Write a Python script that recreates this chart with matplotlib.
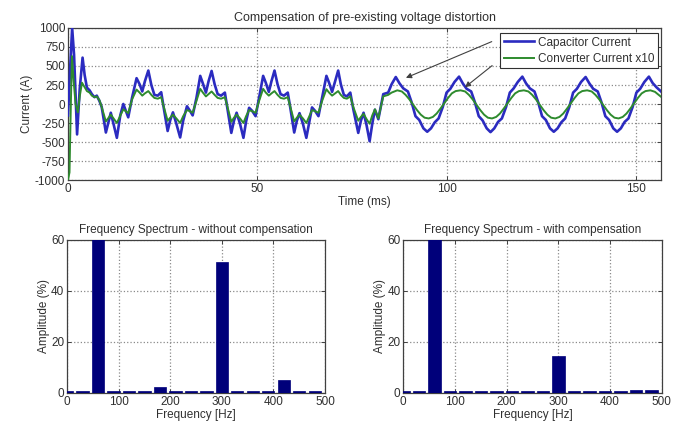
import matplotlib
matplotlib.use("Agg")
import matplotlib.pyplot as plt

plt.rcParams['font.family'] = ['Liberation Sans', 'DejaVu Sans']
plt.rcParams['axes.unicode_minus'] = False

# ---------------- data ----------------
title_top = "Compensation of pre-existing voltage distortion"

t_cap = [0.0, 0.5, 1.1, 1.6, 2.4, 3.1, 3.85, 4.4, 5.0, 5.7, 6.3, 7.0, 7.6, 8.3, 8.9,
         10.0, 11.3, 12.9, 13.8, 14.6, 15.9, 16.9,
         18.1, 18.9, 19.6, 20.3, 21.2, 22.0, 22.8, 23.7, 24.6, 25.3, 26.3, 27.0, 27.7, 28.6, 29.6, 30.4, 31.4, 32.2, 32.9, 33.9,
         34.9, 35.6, 36.4, 37.1, 37.9, 38.7, 39.5, 40.4, 41.4, 42.1, 43.1, 43.8, 44.5, 45.4, 46.3, 47.0, 47.8, 48.6, 49.5, 50.5,
         51.5, 52.2, 53.0, 53.7, 54.5, 55.3, 56.1, 57.0, 58.0, 58.7, 59.7, 60.4, 61.1, 62.0, 62.9, 63.7, 64.4, 65.2, 66.1, 67.1,
         68.2, 68.9, 69.7, 70.5, 71.3, 72.0, 72.8, 73.6, 74.5, 75.3, 76.6, 77.3, 78.0, 78.8, 79.6, 80.3, 81.0, 81.9, 82.6, 83.2, 84.5, 85.4,
         86.5, 87.5, 88.5, 89.7, 90.7, 91.7, 92.7, 93.8, 94.8, 95.8, 96.8, 97.8, 98.9, 99.9, 100.9, 102.0,
         103.2, 104.2, 105.2, 106.4, 107.4, 108.4, 109.4, 110.5, 111.5, 112.5, 113.5, 114.5, 115.6, 116.6, 117.6, 118.7,
         119.9, 120.9, 121.9, 123.1, 124.1, 125.1, 126.1, 127.2, 128.2, 129.2, 130.2, 131.2, 132.3, 133.3, 134.3, 135.4,
         136.6, 137.6, 138.6, 139.8, 140.8, 141.8, 142.8, 143.9, 144.9, 145.9, 146.9, 147.9, 149.0, 150.0, 151.0, 152.1,
         153.3, 154.3, 155.3, 156.5]
i_cap = [-150, 400, 1000, 650, -400, 200, 610, 380, 215, 180, 130, 90, 110, 40, -40,
         -375, -115, -445, -150, 0, -175, 80,
         340, 260, 165, 300, 440, 250, 120, 110, 155, -60, -355, -210, -110, -260, -440, -220, -30, -90, -150, 80,
         370, 270, 150, 300, 435, 260, 130, 110, 150, -70, -380, -220, -115, -260, -445, -230, -50, -90, -160, 100,
         370, 280, 160, 300, 440, 260, 130, 110, 150, -60, -375, -220, -120, -260, -445, -230, -45, -90, -160, 90,
         370, 280, 160, 300, 440, 260, 120, 100, 150, -70, -380, -220, -115, -280, -490, -260, -75, -200, -20, 130, 150, 260,
         355, 270, 205, 165, 20, -160, -210, -320, -365, -320, -240, -190, -40, 150, 200, 290,
         360, 270, 200, 165, 20, -160, -215, -320, -370, -320, -235, -190, -40, 150, 205, 290,
         360, 270, 205, 165, 20, -160, -210, -320, -365, -320, -240, -190, -40, 150, 200, 290,
         355, 270, 200, 165, 20, -160, -210, -320, -365, -320, -235, -190, -40, 150, 200, 290,
         360, 275, 220, 165]

t_conv = [0.0, 0.4, 0.8, 1.05, 1.5, 2.0, 2.6, 3.1, 3.7, 4.4, 5.0, 5.7, 6.3, 7.0, 7.6, 8.3, 8.9,
          10.0, 11.3, 12.9, 14.6, 15.9, 16.9,
          18.1, 18.9, 19.6, 20.3, 21.2, 22.0, 22.8, 23.7, 24.6, 25.3, 26.3, 27.0, 27.7, 28.6, 29.6, 30.4, 31.4, 32.2, 32.9, 33.9,
          34.9, 35.6, 36.4, 37.1, 37.9, 38.7, 39.5, 40.4, 41.4, 42.1, 43.1, 43.8, 44.5, 45.4, 46.3, 47.0, 47.8, 48.6, 49.5, 50.5,
          51.5, 52.2, 53.0, 53.7, 54.5, 55.3, 56.1, 57.0, 58.0, 58.7, 59.7, 60.4, 61.1, 62.0, 62.9, 63.7, 64.4, 65.2, 66.1, 67.1,
          68.2, 68.9, 69.7, 70.5, 71.3, 72.0, 72.8, 73.6, 74.5, 75.3, 76.6, 77.3, 78.0, 78.8, 79.6, 80.3, 81.0, 81.9, 82.6, 83.2, 84.5, 85.4,
          86.9, 88.1, 89.1, 90.1, 91.1, 92.1, 93.1, 94.1, 95.2, 96.3, 97.3, 98.3, 99.3, 100.3, 101.3, 102.3,
          103.6, 104.8, 105.8, 106.8, 107.8, 108.8, 109.8, 110.8, 111.9, 113.0, 114.0, 115.0, 116.0, 117.0, 118.0, 119.0,
          120.3, 121.5, 122.5, 123.5, 124.5, 125.5, 126.5, 127.5, 128.6, 129.7, 130.7, 131.7, 132.7, 133.7, 134.7, 135.7,
          137.0, 138.2, 139.2, 140.2, 141.2, 142.2, 143.2, 144.2, 145.3, 146.4, 147.4, 148.4, 149.4, 150.4, 151.4, 152.4,
          153.7, 154.9, 155.9, 156.5]
i_conv = [-1000, -900, 100, 630, 300, 0, -110, 100, 280, 220, 170, 150, 110, 90, 100, 50, -40,
          -230, -140, -250, -70, -120, 60,
          190, 150, 110, 140, 170, 120, 80, 70, 90, -40, -220, -180, -140, -190, -250, -160, -80, -95, -115, 40,
          200, 150, 100, 130, 165, 120, 80, 70, 90, -40, -235, -180, -140, -190, -250, -160, -80, -95, -115, 50,
          200, 150, 110, 140, 170, 120, 80, 70, 90, -40, -230, -180, -140, -190, -250, -160, -80, -95, -115, 45,
          195, 150, 110, 140, 170, 120, 80, 70, 100, -40, -220, -170, -130, -200, -260, -150, -70, -190, -30, 100, 120, 150,
          180, 165, 120, 60, -10, -80, -140, -180, -190, -170, -125, -60, 10, 80, 140, 170,
          180, 165, 120, 60, -10, -80, -140, -180, -190, -170, -125, -60, 10, 80, 140, 170,
          180, 165, 120, 60, -10, -80, -140, -180, -190, -170, -125, -60, 10, 80, 140, 170,
          180, 165, 120, 60, -10, -80, -140, -180, -190, -170, -125, -60, 10, 80, 140, 170,
          180, 160, 120, 95]

series_labels = ["Capacitor Current", "Converter Current x10"]
top_xticks = [0, 50, 100, 150]
top_yticks = [-1000, -750, -500, -250, 0, 250, 500, 750, 1000]

freq_bins = [0, 30, 60, 90, 120, 150, 180, 210, 240, 270, 300, 330, 360, 390, 420, 450, 480]
amp_without = [0.6, 0.6, 100, 0.6, 0.6, 0.6, 2.3, 0.6, 0.6, 0.6, 51.5, 0.6, 0.9, 0.6, 5.0, 0.6, 0.6]
amp_with = [0.6, 0.6, 100, 0.6, 0.6, 0.6, 0.6, 0.6, 0.6, 0.9, 14.5, 0.8, 0.7, 0.9, 0.6, 1.2, 1.2]
spec_titles = ["Frequency Spectrum - without compensation", "Frequency Spectrum - with compensation"]
spec_xticks = [0, 100, 200, 300, 400, 500]
spec_yticks = [0, 20, 40, 60]

# ---------------- styling ----------------
TXT = '#303030'
BLUE = '#2b2bc0'
GREEN = '#2e8b2e'
NAVY = '#00007a'
GRID = dict(color='#8a8a8a', linestyle=':', linewidth=0.9)


def style_axes(ax):
    for s in ax.spines.values():
        s.set_color('#404040')
        s.set_linewidth(0.9)
    ax.tick_params(direction='in', top=True, right=True, length=3, width=0.7,
                   colors='#404040', labelcolor=TXT, labelsize=8.5, pad=2)
    ax.grid(True, **GRID)
    ax.set_axisbelow(True)


fig = plt.figure(figsize=(6.86, 4.28), dpi=100)

# ---------------- top: time domain ----------------
ax = fig.add_axes([0.0991, 0.5794, 0.8645, 0.3552])
l1, = ax.plot(t_cap, i_cap, color=BLUE, lw=1.9, label=series_labels[0], zorder=3)
l2, = ax.plot(t_conv, i_conv, color=GREEN, lw=1.4, label=series_labels[1], zorder=4)
ax.set_xlim(0, 156.5)
ax.set_ylim(-1000, 1000)
ax.set_xticks(top_xticks)
ax.set_yticks(top_yticks)
style_axes(ax)
ax.set_title(title_top, fontsize=9, color=TXT, pad=5)
ax.set_xlabel("Time (ms)", fontsize=8.5, color=TXT, labelpad=1)
ax.set_ylabel("Current (A)", fontsize=8.5, color=TXT, labelpad=1)

leg = ax.legend(handles=[l1, l2], loc='upper right', bbox_to_anchor=(0.995, 0.967),
                borderaxespad=0, fontsize=8.5, fancybox=False, framealpha=1,
                edgecolor='#303030', handlelength=2.6, handletextpad=0.3,
                borderpad=0.3, labelspacing=0.35)
leg.get_frame().set_linewidth(0.8)
for txt in leg.get_texts():
    txt.set_color(TXT)

arrow_kw = dict(arrowstyle='-|>', color='#404040', lw=0.8, mutation_scale=8)
ax.annotate('', xy=(88.5, 330), xytext=(112.5, 835), arrowprops=arrow_kw, zorder=6)
ax.annotate('', xy=(104.2, 198), xytext=(112.5, 528), arrowprops=arrow_kw, zorder=6)

# ---------------- bottom: spectra ----------------
positions = [[0.0977, 0.0818, 0.3761, 0.3575], [0.5879, 0.0818, 0.3767, 0.3575]]
for pos, amps, ttl in zip(positions, [amp_without, amp_with], spec_titles):
    bx = fig.add_axes(pos)
    bx.bar(freq_bins, amps, width=24, color=NAVY, edgecolor=NAVY, linewidth=0.5, zorder=3)
    bx.set_xlim(0, 500)
    bx.set_ylim(0, 60)
    bx.set_xticks(spec_xticks)
    bx.set_yticks(spec_yticks)
    style_axes(bx)
    bx.set_title(ttl, fontsize=8.5, color=TXT, pad=5)
    bx.set_xlabel("Frequency [Hz]", fontsize=8.5, color=TXT, labelpad=1)
    bx.set_ylabel("Amplitude (%)", fontsize=8.5, color=TXT, labelpad=1)

fig.savefig("out.png", dpi=100)
